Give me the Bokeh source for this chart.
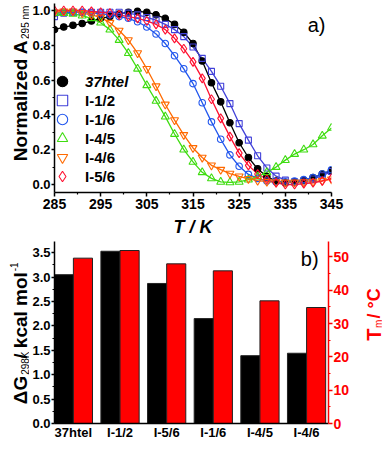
import numpy as np
from bokeh.plotting import figure
from bokeh.models import (Range1d, LinearAxis, FixedTicker, Label, Legend,
                          LegendItem, PrintfTickFormatter)
from bokeh.layouts import column, row
from bokeh.embed import file_html
from bokeh.resources import INLINE

# ---------------- data ----------------
temps = [285, 287, 289, 291, 293, 295, 297, 299, 301, 303, 305, 307, 309, 311, 313,
         315, 317, 319, 321, 323, 325, 327, 329, 331, 333, 335, 337, 339, 341, 343, 345]
htel37 = [0.890, 0.905, 0.915, 0.925, 0.940, 0.955, 0.965, 0.980, 0.990, 0.995, 0.990,
          0.975, 0.955, 0.920, 0.875, 0.810, 0.710, 0.585, 0.475, 0.355, 0.240, 0.155,
          0.090, 0.045, 0.020, 0.010, 0.015, 0.025, 0.040, 0.060, 0.080]
i12 = [0.965, 0.985, 0.990, 0.990, 0.990, 0.990, 0.990, 0.990, 0.985, 0.975, 0.960,
       0.945, 0.920, 0.890, 0.850, 0.790, 0.725, 0.650, 0.565, 0.465, 0.350, 0.255,
       0.165, 0.095, 0.048, 0.025, 0.015, 0.020, 0.032, 0.050, 0.075]
i16 = [0.985, 0.990, 0.990, 0.990, 0.985, 0.980, 0.975, 0.965, 0.955, 0.935, 0.905,
       0.865, 0.810, 0.740, 0.665, 0.580, 0.470, 0.360, 0.260, 0.170, 0.105, 0.058,
       0.035, 0.020, 0.015, 0.015, 0.020, 0.028, 0.040, 0.060, 0.085]
i45 = [0.985, 0.985, 0.980, 0.970, 0.955, 0.930, 0.890, 0.830, 0.755, 0.665, 0.570,
       0.480, 0.390, 0.290, 0.200, 0.130, 0.070, 0.035, 0.015, 0.012, 0.015, 0.028,
       0.045, 0.070, 0.100, 0.140, 0.175, 0.200, 0.230, 0.280, 0.325]
i46 = [0.990, 0.995, 0.995, 0.985, 0.975, 0.960, 0.930, 0.885, 0.830, 0.755, 0.665,
       0.565, 0.460, 0.370, 0.285, 0.210, 0.155, 0.110, 0.085, 0.063, 0.047, 0.033,
       0.022, 0.016, 0.013, 0.012, 0.012, 0.014, 0.017, 0.022, 0.030]
i56 = [1.000, 1.000, 1.000, 1.000, 0.995, 0.990, 0.985, 0.975, 0.965, 0.955, 0.940,
       0.920, 0.890, 0.840, 0.780, 0.705, 0.610, 0.490, 0.380, 0.275, 0.180, 0.110,
       0.060, 0.030, 0.010, 0.000, 0.000, 0.005, 0.010, 0.020, 0.035]

series_names = ["37htel", "I-1/2", "I-1/6", "I-4/5", "I-4/6", "I-5/6"]
x_ticks = [285, 295, 305, 315, 325, 335, 345]
y_ticks = [0.0, 0.2, 0.4, 0.6, 0.8, 1.0]

categories = ["37htel", "I-1/2", "I-5/6", "I-1/6", "I-4/5", "I-4/6"]
dG298 = [3.05, 3.53, 2.87, 2.15, 1.39, 1.44]
Tm = [49.6, 51.9, 47.9, 45.8, 36.8, 34.8]
dG_ticks = [0.0, 0.5, 1.0, 1.5, 2.0, 2.5, 3.0, 3.5]
Tm_ticks = [0, 10, 20, 30, 40, 50]

# ---------------- styles / layout ----------------
FONT = "Liberation Sans, Arial, sans-serif"
RED = "#ff0000"
V = np.pi / 2

styles = {
    "37htel": dict(marker="circle", color="black", size=6.5, fill=True),
    "I-1/2": dict(marker="square", color="#4141d9", size=6, fill=False),
    "I-1/6": dict(marker="circle", color="#2257ee", size=6.5, fill=False),
    "I-4/5": dict(marker="triangle", color="#3fdc10", size=8, fill=False),
    "I-4/6": dict(marker="inverted_triangle", color="#ff6a00", size=8, fill=False),
    "I-5/6": dict(marker="diamond", color="#ff1030", size=9, fill=False),
}
series_vals = [htel37, i12, i16, i45, i46, i56]


def style_axis(ax, color="black", size="14px", standoff=2, tick_out=4):
    ax.axis_line_width = 1.5
    ax.axis_line_color = color
    ax.major_tick_line_color = color
    ax.minor_tick_line_color = color
    ax.major_tick_line_width = 1.5
    ax.minor_tick_line_width = 1.2
    ax.major_tick_in = 0
    ax.major_tick_out = tick_out
    ax.minor_tick_in = 0
    ax.minor_tick_out = 2
    ax.major_label_text_font = FONT
    ax.major_label_text_font_style = "bold"
    ax.major_label_text_font_size = size
    ax.major_label_text_color = color
    ax.major_label_standoff = standoff


def plain(fig):
    fig.xgrid.visible = False
    fig.ygrid.visible = False
    fig.outline_line_color = None
    fig.background_fill_color = "white"
    fig.border_fill_color = "white"


def text_panel(w, h):
    """Blank figure whose frame is the whole canvas; 1 data unit = 1 pixel, y downward."""
    f = figure(width=w, height=h, x_range=Range1d(0, w), y_range=Range1d(h, 0),
               x_axis_type=None, y_axis_type=None, output_backend="svg",
               toolbar_location=None, title=None, min_border=0)
    f.outline_line_color = None
    f.background_fill_color = "white"
    f.border_fill_color = "white"
    return f


def add_label(fig, x, y, text, size, style="bold", color="black", angle=0.0, align="left"):
    fig.add_layout(Label(x=x, y=y, text=text, angle=angle, text_font=FONT,
                         text_font_size=size, text_font_style=style, text_color=color,
                         text_align=align, text_baseline="alphabetic"))


# ================= top panel =================
A_LO, A_HI = -0.046, 1.0402
TOP_W, TOP_H = 353, 240
T_BL, T_BR, T_BT, T_BB = 23, 51, 3, 48
top = figure(width=TOP_W, height=TOP_H, x_range=Range1d(285, 345), y_range=Range1d(A_LO, A_HI),
             output_backend="svg", toolbar_location=None, title=None,
             min_border_left=T_BL, min_border_right=T_BR, min_border_top=T_BT,
             min_border_bottom=T_BB)
plain(top)
top.xaxis.ticker = FixedTicker(ticks=x_ticks, minor_ticks=[t + 5 for t in x_ticks[:-1]])
top.yaxis.ticker = FixedTicker(ticks=y_ticks, minor_ticks=[t + 0.1 for t in y_ticks[:-1]])
top.yaxis.formatter = PrintfTickFormatter(format="%.1f")
style_axis(top.xaxis[0], size="14px", standoff=2, tick_out=4)
style_axis(top.yaxis[0], size="13px", standoff=1, tick_out=3)
top.xaxis.axis_label = "T / K"
top.xaxis.axis_label_text_font = FONT
top.xaxis.axis_label_text_font_size = "18px"
top.xaxis.axis_label_text_font_style = "bold italic"
top.xaxis.axis_label_text_color = "black"
top.xaxis.axis_label_standoff = 5

marker_renderers = {}
for name, vals in zip(series_names, series_vals):
    st = styles[name]
    top.line(temps, vals, line_color=st["color"], line_width=1.3)
for name, vals in zip(series_names, series_vals):
    st = styles[name]
    r = top.scatter(temps, vals, marker=st["marker"], size=st["size"],
                    line_color=st["color"], line_width=1.1,
                    fill_color=st["color"] if st["fill"] else None,
                    fill_alpha=1.0 if st["fill"] else 0.0)
    marker_renderers[name] = r

# one legend per row, so that row pitch and marker size are independent
legend_rows_y = [98, 79, 60, 41, 22, 3]
for name, ly in zip(series_names, legend_rows_y):
    leg = Legend(items=[LegendItem(label=name, renderers=[marker_renderers[name]])],
                 location=(-5, ly))
    leg.border_line_color = None
    leg.background_fill_alpha = 0
    leg.padding = 0
    leg.margin = 0
    leg.glyph_width = 26
    leg.glyph_height = 26
    leg.label_height = 26
    leg.label_standoff = 10
    leg.spacing = 0
    leg.label_text_font = FONT
    leg.label_text_font_size = "15px"
    leg.label_text_color = "black"
    leg.label_text_font_style = "bold italic" if name == "37htel" else "bold"
    top.add_layout(leg)

T_FW = TOP_W - T_BL - T_BR
T_FH = TOP_H - T_BT - T_BB


def tx(fx):  # pixel (within top figure) -> data x
    return 285 + (fx - T_BL) * 60.0 / T_FW


def ty(fy):  # pixel (within top figure) -> data y
    return A_HI - (fy - T_BT) * (A_HI - A_LO) / T_FH


add_label(top, tx(278), ty(24), "a)", "20px", style="normal")

# rotated y title: main text ends where the subscript begins
ylab_top = text_panel(29, TOP_H)
add_label(ylab_top, 20, 46, "Normalized A", "19px", angle=V, align="right")
add_label(ylab_top, 25, 45, "295 nm", "10px", style="normal", angle=V)

# ================= bottom panel =================
X_LO, X_HI = -0.405, 5.47
DG_HI, TM_HI = 3.73, 54.6
BOT_W, BOT_H = 323, 202
B_BL, B_BR, B_BT, B_BB = 24, 22, 1, 18
bot = figure(width=BOT_W, height=BOT_H, x_range=Range1d(X_LO, X_HI), y_range=Range1d(0, DG_HI),
             output_backend="svg", toolbar_location=None, title=None,
             min_border_left=B_BL, min_border_right=B_BR, min_border_top=B_BT,
             min_border_bottom=B_BB)
bot.extra_y_ranges = {"tm": Range1d(0, TM_HI)}
plain(bot)

idx = np.arange(len(categories))
BW = 0.41
bot.vbar(x=idx - BW / 2, top=dG298, width=BW, fill_color="black", line_color="#222222", line_width=1)
bot.vbar(x=idx + BW / 2, top=Tm, width=BW, fill_color=RED, line_color="#222222", line_width=1,
         y_range_name="tm")

bot.xaxis.ticker = FixedTicker(ticks=[int(i) for i in idx])
bot.xaxis.major_label_overrides = {int(i): c for i, c in zip(idx, categories)}
style_axis(bot.xaxis[0], size="13px", standoff=1, tick_out=0)
bot.xaxis.minor_tick_out = 0

bot.yaxis.ticker = FixedTicker(ticks=dG_ticks, minor_ticks=[t + 0.25 for t in dG_ticks])
bot.yaxis.formatter = PrintfTickFormatter(format="%.1f")
style_axis(bot.yaxis[0], size="13px", standoff=1, tick_out=3)

raxis = LinearAxis(y_range_name="tm",
                   ticker=FixedTicker(ticks=Tm_ticks, minor_ticks=[t + 5 for t in Tm_ticks]))
style_axis(raxis, color=RED, size="14px", standoff=1, tick_out=4)
bot.add_layout(raxis, "right")

B_FW = BOT_W - B_BL - B_BR
B_FH = BOT_H - B_BT - B_BB


def bx(fx):
    return X_LO + (fx - B_BL) * (X_HI - X_LO) / B_FW


def by(fy):
    return (B_BT + B_FH - fy) * DG_HI / B_FH


add_label(bot, bx(273), by(19), "b)", "20px", style="normal")

ylab_bot = text_panel(29, BOT_H)
add_label(ylab_bot, 20, 149, "ΔG", "19px", angle=V, align="right")
add_label(ylab_bot, 25, 148, "298K", "10px", style="normal", angle=V)
add_label(ylab_bot, 20, 34, "/ kcal mol", "19px", angle=V, align="right")
add_label(ylab_bot, 13, 33, "-1", "10px", style="normal", angle=V)

rlab = text_panel(30, BOT_H)
add_label(rlab, 21, 96.5, "T", "20px", color=RED, angle=V, align="right")
add_label(rlab, 26, 96, "m", "10px", style="normal", color=RED, angle=V)
add_label(rlab, 21, 85.5, "/ °C", "18px", color=RED, angle=V)

layout = column(row(ylab_top, top), row(ylab_bot, bot, rlab))
open("out.html", "w").write(file_html(layout, INLINE))
